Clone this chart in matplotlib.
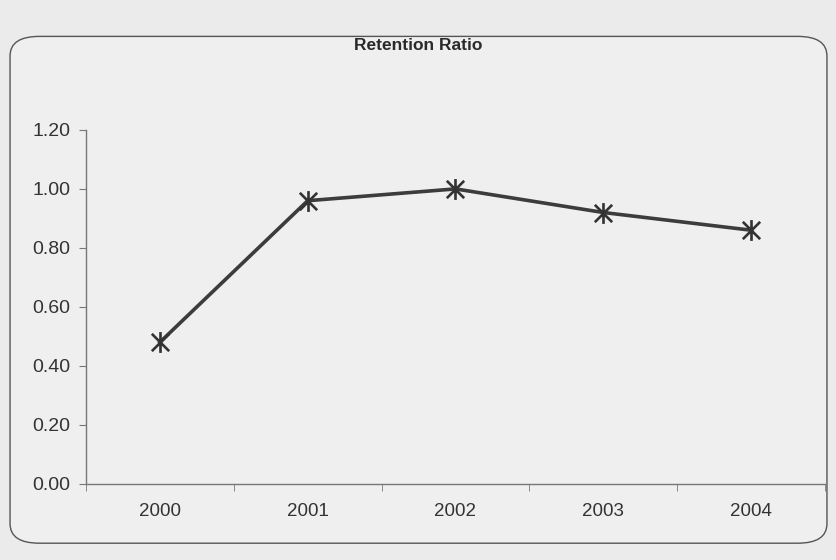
import matplotlib.pyplot as plt
import numpy as np
from matplotlib.patches import FancyBboxPatch
from matplotlib.path import Path

## Data
years = ["2000", "2001", "2002", "2003", "2004"]
retention = [0.48, 0.96, 1.00, 0.92, 0.86]
y_ticks = [0.00, 0.20, 0.40, 0.60, 0.80, 1.00, 1.20]

plt.rcParams["font.family"] = ["Liberation Sans", "DejaVu Sans"]

# Excel-style asterisk: an X with a vertical bar through it
asterisk = Path([(-1, -1), (1, 1), (-1, 1), (1, -1), (0, -1.2), (0, 1.2)],
                [Path.MOVETO, Path.LINETO] * 3)

fig = plt.figure(figsize=(8.37, 5.6), dpi=100)
fig.patch.set_facecolor("#ebebeb")

# rounded chart frame, kept behind the axes
frame = FancyBboxPatch((0.012, 0.03), 0.976, 0.905,
                       boxstyle="round,pad=0,rounding_size=0.035",
                       transform=fig.transFigure, facecolor="#efefef",
                       edgecolor="#555555", linewidth=1.0, zorder=-1)
fig.add_artist(frame)

fig.text(0.5, 0.918, "Retention Ratio", ha="center", va="center",
         fontsize=12.5, fontweight="bold", color="#2a2a2a")

ax = fig.add_axes([0.1027, 0.136, 0.883, 0.632])
ax.set_facecolor("none")

x = np.arange(len(years))
ax.plot(x, retention, color="#3c3c3c", linewidth=2.6,
        marker=asterisk, markersize=15, markeredgewidth=1.9,
        markeredgecolor="#333333", zorder=3, clip_on=False)

ax.set_xlim(-0.5, len(years) - 0.5)
ax.set_ylim(0, 1.2)

ax.set_yticks(y_ticks)
ax.set_yticklabels([f"{v:.2f}" for v in y_ticks])

# category labels at centres, tick marks between categories
ax.set_xticks(x)
ax.set_xticklabels(years)
ax.set_xticks(np.arange(-0.5, len(years)), minor=True)
ax.tick_params(axis="x", which="major", length=0, pad=14,
               labelsize=13.5, labelcolor="#333333")
ax.tick_params(axis="x", which="minor", length=5, color="#777777")
ax.tick_params(axis="y", length=5, color="#777777", pad=6,
               labelsize=14, labelcolor="#333333")

for side in ["top", "right"]:
    ax.spines[side].set_visible(False)
for side in ["left", "bottom"]:
    ax.spines[side].set_color("#777777")
    ax.spines[side].set_linewidth(1.0)

plt.savefig("out.png", dpi=100, facecolor=fig.get_facecolor())
